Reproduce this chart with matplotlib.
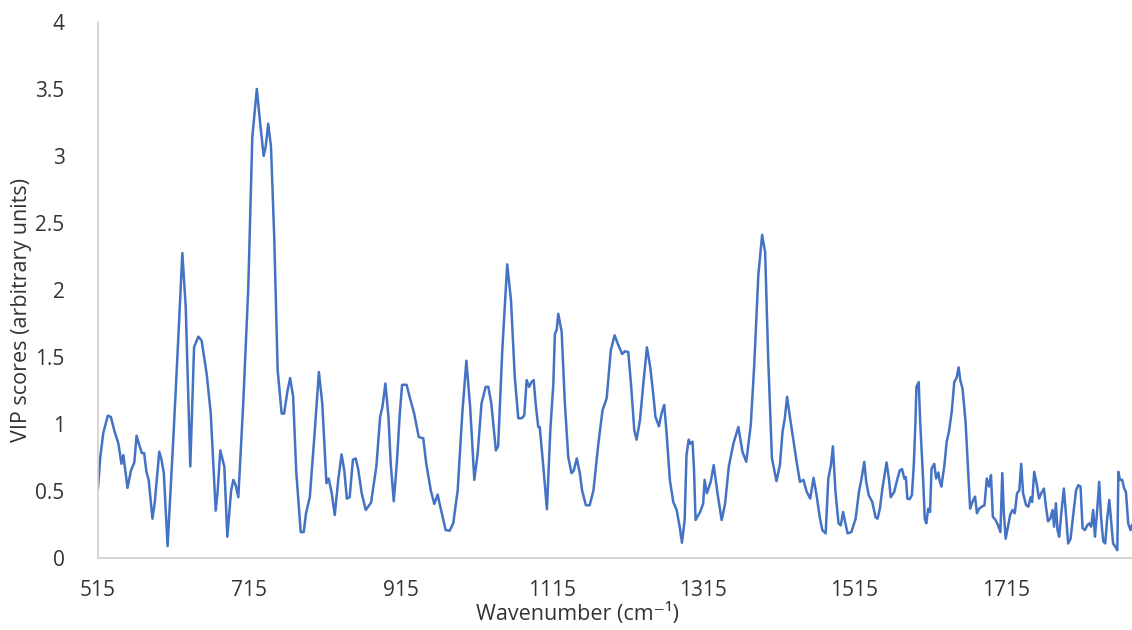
import matplotlib
matplotlib.use("Agg")
import matplotlib.pyplot as plt
from matplotlib.ticker import FuncFormatter

plt.rcParams['font.family'] = ['Open Sans', 'DejaVu Sans']

wavenumber = [
    515, 518, 522, 528, 532, 537, 542, 546, 548.5, 554, 558.6, 563, 566, 569, 573, 576, 579, 582,
    587, 590, 596, 599, 602, 607, 614.5, 621, 626.5, 631, 637, 642, 647.6, 652, 658.7, 664, 670.6,
    673, 676.7, 682, 686,
    691, 694, 697, 700.5, 707, 713.7, 719, 725, 729, 734, 736.7, 740, 743.7, 748, 752.5, 757.8, 761,
    765.7, 769, 773, 777, 783, 787, 790, 795, 801, 807, 811.5, 817, 820, 824, 828, 832.6, 837, 840.6,
    844, 847.7, 852, 855.6,
    859, 863.6, 869, 876, 881, 883, 888, 891, 895, 899, 902, 906, 910, 914, 917, 923, 927, 933, 939,
    945, 949, 955, 959.6, 964, 967.5, 972, 974.6, 980, 984.6, 990.5, 996.6, 1002, 1007, 1012.5, 1017,
    1022, 1027.5,
    1031, 1035, 1041, 1044, 1049.5, 1056, 1061, 1066, 1070.6, 1075, 1078.5, 1081.7, 1085, 1088, 1091,
    1093.6, 1097, 1099, 1103.7, 1108.5, 1113, 1117, 1119, 1121.4, 1123.5, 1128, 1132, 1136.7, 1141,
    1144, 1148, 1152, 1155, 1160, 1165, 1170, 1176.5, 1182, 1187.5, 1193, 1198,
    1203, 1208, 1211.6, 1216, 1219.6, 1224, 1227, 1231.5, 1236, 1240.7, 1245, 1249, 1252, 1256.6,
    1260, 1263.6, 1266.7, 1271, 1275.5, 1280, 1284, 1287, 1290.6, 1293, 1296, 1298, 1301, 1303, 1305,
    1311, 1315, 1317, 1320, 1325, 1329, 1334, 1339.5, 1344, 1349, 1355, 1361.6, 1367, 1372,
    1378, 1382.6, 1388, 1393, 1397, 1401, 1406, 1412, 1416.5, 1420, 1423, 1426, 1430, 1434, 1438.6,
    1443, 1447.6, 1452, 1456.6, 1461, 1465, 1469.5, 1472.6, 1477, 1480.5, 1484, 1486.6, 1490, 1494,
    1497, 1500, 1502.6, 1506, 1511, 1516.6, 1521, 1524.5, 1528, 1530.6, 1534, 1538.6, 1543,
    1545.6, 1548.7, 1552, 1557.5, 1560.6, 1563, 1567.6, 1572, 1575, 1578, 1581, 1583, 1585, 1588, 1591,
    1593.5, 1595.7, 1597, 1600, 1602, 1606, 1608, 1610, 1612.6, 1615, 1617, 1620.6, 1623, 1626, 1628,
    1630, 1634, 1637, 1640, 1643.7, 1647, 1650, 1652.8, 1655, 1658, 1662, 1665.5, 1668, 1671, 1674.5,
    1677, 1680, 1683.6, 1687, 1690, 1693, 1695.6, 1698, 1701.6, 1705, 1708, 1710.5, 1712.6, 1715,
    1718, 1721, 1724, 1727, 1730, 1733, 1735.5, 1738, 1742, 1745, 1748, 1750, 1752.7, 1756, 1759,
    1762, 1765.5, 1768, 1771, 1774, 1777, 1779, 1781.4, 1783.5, 1785.7, 1788.7, 1791.9, 1794.6,
    1797.6, 1800.8, 1804, 1808, 1810.9, 1814, 1816.6, 1819.7, 1822.8, 1825.5, 1828, 1830.7, 1833,
    1836, 1838.6, 1841, 1844, 1846.6, 1849, 1852, 1855, 1857, 1860, 1862.6, 1864, 1866, 1869,
    1871.7, 1874, 1877, 1880, 1882,
]

vip_score = [
    0.52, 0.75, 0.93, 1.06, 1.05, 0.94, 0.85, 0.70, 0.765, 0.52, 0.65, 0.71, 0.91, 0.85, 0.78, 0.78, 0.64, 0.58,
    0.29, 0.41, 0.79, 0.73, 0.63, 0.085, 0.88, 1.62, 2.275, 1.87, 0.68, 1.57, 1.65, 1.62, 1.37, 1.08, 0.35,
    0.48, 0.80, 0.68, 0.155,
    0.50, 0.58, 0.54, 0.45, 1.15, 2.02, 3.14, 3.50, 3.265, 3.00, 3.07, 3.24, 3.07, 2.39, 1.40, 1.075, 1.075,
    1.25, 1.34, 1.20, 0.65, 0.19, 0.19, 0.33, 0.45, 0.90, 1.385, 1.15, 0.555, 0.59, 0.48, 0.317, 0.58, 0.77, 0.65,
    0.44, 0.45, 0.73, 0.74,
    0.66, 0.48, 0.355, 0.41, 0.60, 0.68, 1.05, 1.125, 1.30, 1.05, 0.70, 0.42, 0.70, 1.075, 1.29, 1.29, 1.20, 1.075, 0.90,
    0.89, 0.70, 0.50, 0.40, 0.47, 0.38, 0.27, 0.205, 0.20, 0.255, 0.50, 1.075, 1.47, 1.125, 0.58, 0.78,
    1.15, 1.275,
    1.275, 1.15, 0.80, 0.83, 1.55, 2.19, 1.92, 1.35, 1.04, 1.04, 1.06, 1.325, 1.275, 1.31, 1.325,
    1.15, 0.975, 0.975, 0.68, 0.36, 0.95, 1.30, 1.67, 1.70, 1.82, 1.685, 1.175, 0.75, 0.63,
    0.65, 0.74, 0.63, 0.50, 0.39, 0.39, 0.50, 0.85, 1.10, 1.19, 1.55, 1.66,
    1.585, 1.52, 1.54, 1.535, 1.30, 0.95, 0.88, 1.025, 1.30, 1.57, 1.425, 1.225, 1.05, 0.98,
    1.075, 1.14, 0.93, 0.58, 0.415, 0.355, 0.23, 0.11, 0.28, 0.765, 0.88, 0.85, 0.865, 0.65, 0.28,
    0.34, 0.40, 0.58, 0.48, 0.565, 0.69, 0.48, 0.28, 0.40, 0.68, 0.85, 0.975, 0.79, 0.715,
    0.99, 1.44, 2.11, 2.41, 2.28, 1.49, 0.74, 0.57, 0.69, 0.94, 1.04, 1.20, 1.04, 0.89, 0.715,
    0.565, 0.58, 0.49, 0.44, 0.595, 0.465, 0.29, 0.205, 0.18, 0.59, 0.69, 0.83, 0.49, 0.255,
    0.24, 0.34, 0.27, 0.18, 0.19, 0.29, 0.49, 0.59, 0.715, 0.565, 0.465, 0.415, 0.30,
    0.29, 0.365, 0.515, 0.71, 0.59, 0.45, 0.49, 0.59, 0.65, 0.66, 0.59, 0.60, 0.44, 0.435, 0.465,
    0.69, 1.01, 1.275, 1.31, 1.01, 0.565, 0.29, 0.255, 0.365, 0.34, 0.665, 0.70, 0.59, 0.635, 0.565,
    0.53, 0.69, 0.865, 0.94, 1.09, 1.31, 1.34, 1.42, 1.325, 1.26, 1.01, 0.64, 0.365, 0.415, 0.455,
    0.33, 0.365, 0.38, 0.39, 0.59, 0.53, 0.615, 0.305, 0.28, 0.24, 0.19, 0.63, 0.33, 0.14,
    0.23, 0.32, 0.355, 0.33, 0.48, 0.50, 0.70, 0.48, 0.39, 0.38, 0.45, 0.415, 0.64, 0.55, 0.44,
    0.48, 0.515, 0.39, 0.27, 0.29, 0.355, 0.23, 0.405, 0.205, 0.155, 0.34, 0.515, 0.33,
    0.105, 0.14, 0.305, 0.50, 0.54, 0.53, 0.22, 0.205, 0.24, 0.255, 0.23, 0.355, 0.155,
    0.355, 0.565, 0.305, 0.12, 0.105, 0.28, 0.43, 0.23, 0.105, 0.08, 0.055, 0.64, 0.58, 0.58,
    0.515, 0.49, 0.255, 0.205, 0.24,
]

x_ticks = [515, 715, 915, 1115, 1315, 1515, 1715]
y_ticks = [0, 0.5, 1, 1.5, 2, 2.5, 3, 3.5, 4]

text_color = '#333333'
spine_color = '#d0d0d0'

fig = plt.figure(figsize=(11.32, 6.30), dpi=100)
ax = fig.add_axes([98 / 1132, (630 - 557.5) / 630, 1 - 98 / 1132, (557.5 - 22) / 630])

ax.plot(wavenumber, vip_score, color='#4472C4', linewidth=1.8, solid_joinstyle='round')

ax.set_xlim(515, 1882)
ax.set_ylim(0, 4)
ax.set_xticks(x_ticks)
ax.set_yticks(y_ticks)
ax.yaxis.set_major_formatter(FuncFormatter(lambda v, p: f"{v:g}"))
ax.tick_params(axis='both', length=0, labelsize=15, colors=text_color)
ax.tick_params(axis='x', pad=16)
ax.tick_params(axis='y', pad=24)

for s in ['top', 'right']:
    ax.spines[s].set_visible(False)
for s in ['left', 'bottom']:
    ax.spines[s].set_color(spine_color)
    ax.spines[s].set_linewidth(1.2)

fig.text(22 / 1132, 1 - 310 / 630, 'VIP scores (arbitrary units)', rotation=90,
         ha='center', va='center', fontsize=15.5, color=text_color)
fig.text(577 / 1132, 1 - 614 / 630, 'Wavenumber (cm⁻¹)', ha='center', va='center',
         fontsize=15.5, color=text_color)

fig.savefig('out.png', dpi=100)
